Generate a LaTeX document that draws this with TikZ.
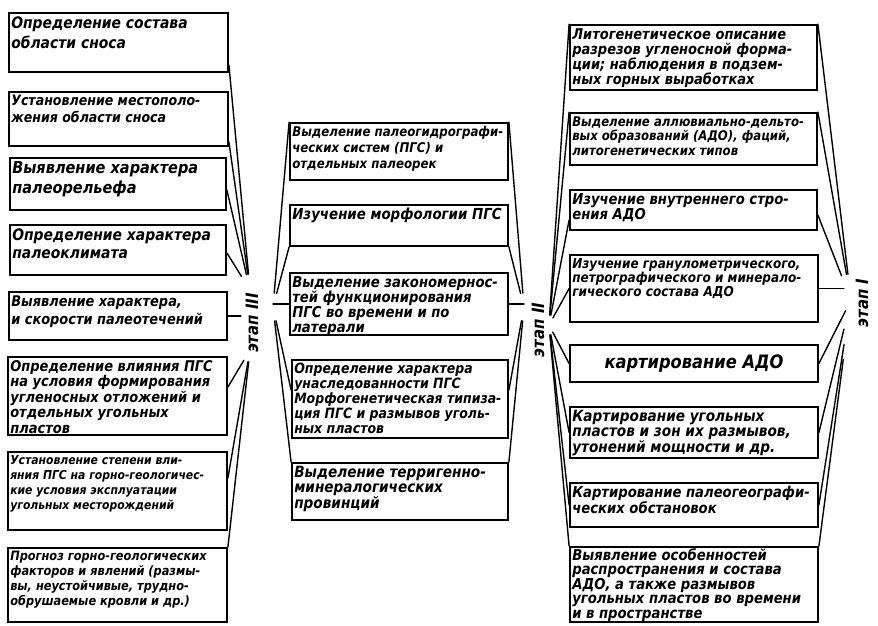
\documentclass[tikz,border=0pt]{standalone}
\usepackage{fontspec}
\newfontfamily\hand{DejaVu Sans}[FakeStretch=0.88]
\usetikzlibrary{fit}
\tikzset{
  boxdraw/.style={draw, line width=1.8pt, inner sep=0pt},
  txt/.style={anchor=north west, inner sep=0pt, align=left},
  conn/.style={line width=1.4pt, line cap=round},
  lab/.style={rotate=90, inner sep=0pt, font=\hand\bfseries\itshape\fontsize{17}{17}\selectfont}
}
\newcommand{\bx}[8]{%
  \node[boxdraw, fit={(#2,#3) (#4,#5)}] (#1) {};
  \node[txt, font=\hand\bfseries\itshape\fontsize{#6}{#7}\selectfont] (#1t) at ([shift={(3pt,-4pt)}]#1.north west) {#8};
}
\begin{document}
\begin{tikzpicture}[x=1pt,y=-1pt]
\useasboundingbox (0,0) rectangle (878,625);
% left column
\bx{L1}{9}{13}{228}{72}{15.8}{20}{Определение состава\\области сноса}
\bx{L2}{9}{92}{228}{146}{14.3}{17}{Установление местополо-\\жения области сноса}
\bx{L3}{10}{158}{226}{210}{16.5}{20}{Выявление характера\\палеорельефа}
\bx{L4}{10}{225}{226}{275}{15.8}{18}{Определение характера\\палеоклимата}
\bx{L5}{9}{292}{227}{340}{14.7}{18}{Выявление характера,\\и скорости палеотечений}
\bx{L6}{8}{357}{227}{435}{14.8}{15.5}{Определение влияния ПГС\\на условия формирования\\угленосных отложений и\\отдельных угольных\\пластов}
\bx{L7}{8}{452}{227}{530}{12.3}{15}{Установление степени вли-\\яния ПГС на горно-геологичес-\\кие условия эксплуатации\\угольных месторождений}
\bx{L8}{8}{548}{227}{622}{12.9}{15}{Прогноз горно-геологических\\факторов и явлений (размы-\\вы, неустойчивые, трудно-\\обрушаемые кровли и др.)}
% middle column
\bx{M1}{290}{123}{508}{180}{13.4}{16}{Выделение палеогидрографи-\\ческих систем (ПГС) и\\отдельных палеорек}
\bx{M2}{290}{205}{508}{246}{15.2}{15}{Изучение морфологии ПГС}
\bx{M3}{290}{273}{508}{335}{15}{15}{Выделение закономернос-\\тей функционирования\\ПГС во времени и по\\латерали}
\bx{M4}{292}{360}{508}{438}{14.2}{15}{Определение характера\\унаследованности ПГС\\Морфогенетическая типиза-\\ция ПГС и размывов уголь-\\ных пластов}
\bx{M5}{292}{463}{508}{520}{15.5}{15}{Выделение терригенно-\\минералогических\\провинций}
% right column
\bx{R1}{570}{25}{817}{90}{14.8}{15}{Литогенетическое описание\\разрезов угленосной форма-\\ции; наблюдения в подзем-\\ных горных выработках}
\bx{R2}{570}{113}{817}{165}{13.3}{14.5}{Выделение аллювиально-дельто-\\вых образований (АДО), фаций,\\литогенетических типов}
\bx{R3}{570}{190}{817}{230}{15}{14}{Изучение внутреннего стро-\\ения АДО}
\bx{R4}{570}{255}{818}{322}{13.7}{14}{Изучение гранулометрического,\\петрографического и минерало-\\гического состава АДО}
\node[boxdraw, fit={(570,345) (818,382)}] (R5) {};
\node[inner sep=0pt, font=\hand\bfseries\itshape\fontsize{18.5}{18.5}\selectfont] (R5t) at (R5.center) {картирование АДО};
\bx{R6}{570}{407}{818}{458}{15.5}{14.5}{Картирование угольных\\пластов и зон их размывов,\\утонений мощности и др.}
\bx{R7}{570}{483}{818}{527}{15}{14}{Картирование палеогеографи-\\ческих обстановок}
\node[boxdraw, fit={(570,547) (818,622)}] (R8) {};
\node[txt, font=\hand\bfseries\itshape\fontsize{15}{14.2}\selectfont] (R8t) at ([shift={(3pt,-2pt)}]R8.north west) {Выявление особенностей\\распространения и состава\\АДО, а также размывов\\угольных пластов во времени\\и в пространстве};
% stage labels
\node[lab] (E3) at (252,323) {этап III};
\node[lab] (E2) at (538,330) {этап II};
\node[lab] (E1) at (862,303) {этап I};
% hubs
\coordinate (f3t) at (250,290);
\coordinate (f3b) at (250,350);
\coordinate (fm3) at (273,307);
\coordinate (fm2) at (524,307);
\coordinate (fr2) at (549,325);
\coordinate (fr1) at (851,300);
% left column connectors
\draw[conn, shorten >=16pt] ([yshift=8pt]L1.south east) -- (f3t);
\draw[conn, shorten >=16pt] ([yshift=5pt]L2.south east) -- (f3t);
\draw[conn, shorten >=16pt] ([yshift=-6pt]L3.east) -- (f3t);
\draw[conn, shorten >=16pt] ([yshift=-3pt]L4.east) -- (f3t);
\draw[conn] (L5.east) -- ++(13,0) coordinate (e5);
\draw[conn, shorten >=12pt] ([yshift=9pt]L6.east) -- (f3b);
\draw[conn, shorten >=12pt] ([yshift=13pt]L7.east) -- (f3b);
\draw[conn, shorten >=12pt] (L8.north east) -- (f3b);
% middle connectors (left side)
\draw[conn, shorten >=14pt] (M1.north west) -- (fm3);
\draw[conn, shorten >=14pt] (M2.south west) -- (fm3);
\draw[conn] (M3.west) -- (M3.west -| fm3);
\draw[conn, shorten >=14pt] ([yshift=9pt]M4.west) -- (fm3);
\draw[conn, shorten >=14pt] (M5.north west) -- (fm3);
% middle connectors (right side)
\draw[conn, shorten >=14pt] (M1.north east) -- (fm2);
\draw[conn, shorten >=14pt] (M2.south east) -- (fm2);
\draw[conn] (M3.east) -- (M3.east -| fm2);
\draw[conn, shorten >=14pt] ([yshift=9pt]M4.east) -- (fm2);
\draw[conn, shorten >=14pt] (M5.north east) -- (fm2);
% right column connectors (left side)
\draw[conn, shorten >=10pt] (R1.north west) -- (fr2);
\draw[conn, shorten >=10pt] (R2.north west) -- (fr2);
\draw[conn, shorten >=10pt] ([yshift=-10pt]R3.west) -- (fr2);
\draw[conn, shorten >=8pt] (R4.west) -- (fr2);
\draw[conn, shorten >=8pt] (R5.west) -- (fr2);
\draw[conn, shorten >=10pt] (R6.west) -- (fr2);
\draw[conn, shorten >=10pt] (R7.west) -- (fr2);
\draw[conn, shorten >=10pt] (R8.north west) -- (fr2);
% right column connectors (right side)
\draw[conn, shorten >=26pt] (R1.north east) -- (fr1);
\draw[conn, shorten >=26pt] (R2.north east) -- (fr1);
\draw[conn, shorten >=26pt] ([yshift=-5pt]R3.east) -- (fr1);
\draw[conn] (R4.east) -- ++(25,0) coordinate (e4);
\draw[conn, shorten >=12pt] (R5.east) -- (fr1);
\draw[conn, shorten >=30pt] (R6.east) -- (fr1);
\draw[conn, shorten >=45pt] (R7.east) -- (fr1);
\draw[conn, shorten >=60pt] (R8.north east) -- (fr1);
\end{tikzpicture}
\end{document}
